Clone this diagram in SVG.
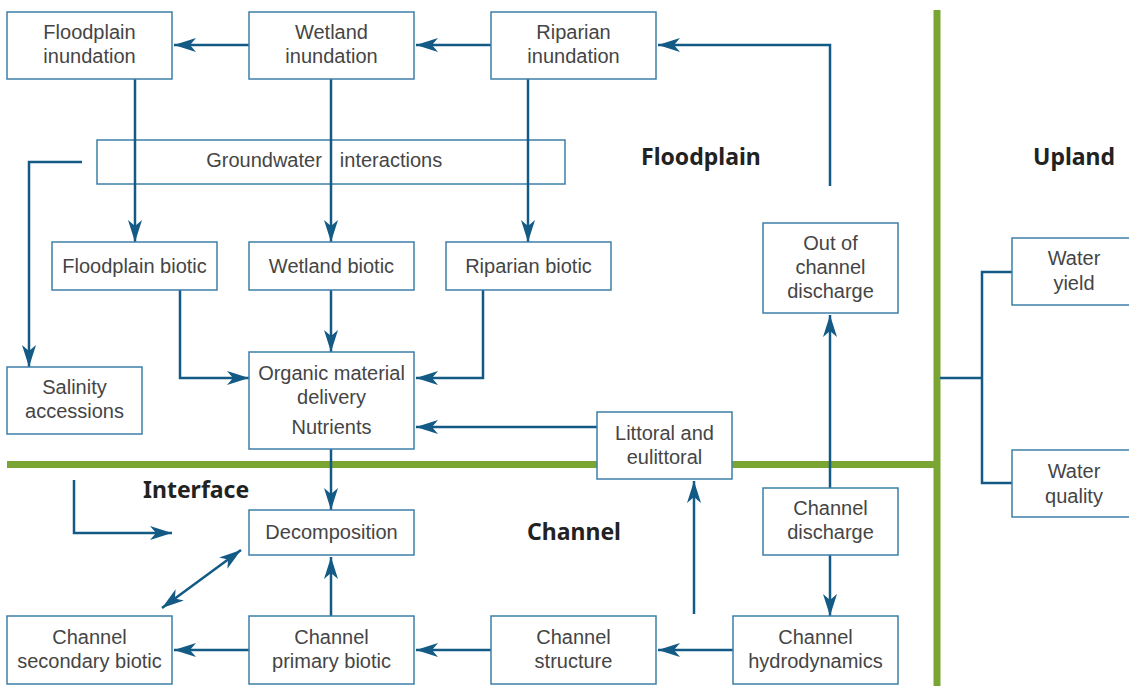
<svg xmlns="http://www.w3.org/2000/svg" width="1129" height="686" viewBox="0 0 1129 686">
<style>
.box{fill:#fff;stroke:#3f7fa8;stroke-width:1.5}
.t{font-family:"Liberation Sans",Arial,sans-serif;font-size:20px;fill:#454545;text-anchor:middle}
.h{font-family:"Noto Sans","Liberation Sans",sans-serif;font-size:23px;font-weight:bold;fill:#222;text-anchor:start}
.c{fill:none;stroke:#135a85;stroke-width:2.5}
.a{marker-end:url(#ah)}
.g{stroke:#7aa532;stroke-width:7;fill:none}
</style>
<defs>
<marker id="ah" markerUnits="userSpaceOnUse" viewBox="0 0 22 14" refX="22" refY="7" markerWidth="22" markerHeight="14" orient="auto-start-reverse">
<path d="M0,0 L22,7 L0,14 L6,7 z" fill="#135a85"/>
</marker>
</defs>
<rect width="1129" height="686" fill="#fff"/>
<g id="dividers">
<line class="g" x1="7" y1="464.5" x2="937" y2="464.5"/>
<line class="g" x1="937" y1="10" x2="937" y2="686"/>
</g>
<g id="labels">
<text class="h" x="641" y="165">Floodplain</text>
<text class="h" x="1033" y="165">Upland</text>
<text class="h" x="143" y="498">Interface</text>
<text class="h" x="527" y="540">Channel</text>
</g>
<g id="groundwater"><rect class="box" x="97" y="140" width="468" height="44"/><text class="t" y="167"><tspan x="264">Groundwater</tspan><tspan x="391">interactions</tspan></text></g>
<g id="connectors">
<line class="c a" x1="249" y1="45" x2="174" y2="45"/>
<line class="c a" x1="491" y1="45" x2="416" y2="45"/>
<polyline class="c a" points="830,186 830,45 658,45"/>
<line class="c a" x1="135" y1="79" x2="135" y2="242"/>
<line class="c a" x1="331" y1="79" x2="331" y2="242"/>
<line class="c a" x1="528" y1="79" x2="528" y2="242"/>
<polyline class="c a" points="82,162 29,162 29,367"/>
<polyline class="c a" points="180,290 180,378 249,378"/>
<line class="c a" x1="331" y1="290" x2="331" y2="352"/>
<polyline class="c a" points="483,290 483,378 416,378"/>
<line class="c a" x1="597" y1="427" x2="416" y2="427"/>
<line class="c a" x1="331" y1="449" x2="331" y2="510"/>
<polyline class="c a" points="74,480 74,533 172,533"/>
<line class="c a" x1="162" y1="608" x2="241" y2="550" style="marker-start:url(#ah)"/>
<line class="c a" x1="331" y1="616" x2="331" y2="557"/>
<line class="c a" x1="249" y1="650" x2="174" y2="650"/>
<line class="c a" x1="491" y1="650" x2="416" y2="650"/>
<line class="c a" x1="733" y1="650" x2="658" y2="650"/>
<line class="c a" x1="694" y1="614" x2="694" y2="481"/>
<line class="c a" x1="830" y1="488" x2="830" y2="315"/>
<line class="c a" x1="830" y1="555" x2="830" y2="616"/>
<polyline class="c" points="940,378 982,378"/>
<polyline class="c" points="1012,272 982,272 982,483 1012,483"/>
</g>
<g id="floodplain-inundation"><rect class="box" x="7" y="12" width="165" height="67"/><text class="t" x="89.5" y="39">Floodplain</text><text class="t" x="89.5" y="63">inundation</text></g>
<g id="wetland-inundation"><rect class="box" x="249" y="12" width="165" height="67"/><text class="t" x="331.5" y="39">Wetland</text><text class="t" x="331.5" y="63">inundation</text></g>
<g id="riparian-inundation"><rect class="box" x="491" y="12" width="165" height="67"/><text class="t" x="573.5" y="39">Riparian</text><text class="t" x="573.5" y="63">inundation</text></g>
<g id="floodplain-biotic"><rect class="box" x="52" y="242" width="165" height="48"/><text class="t" x="134.5" y="273">Floodplain biotic</text></g>
<g id="wetland-biotic"><rect class="box" x="249" y="242" width="165" height="48"/><text class="t" x="331.5" y="273">Wetland biotic</text></g>
<g id="riparian-biotic"><rect class="box" x="446" y="242" width="165" height="48"/><text class="t" x="528.5" y="273">Riparian biotic</text></g>
<g id="out-of-channel"><rect class="box" x="763" y="223" width="135" height="90"/><text class="t" x="830.5" y="250">Out of</text><text class="t" x="830.5" y="274">channel</text><text class="t" x="830.5" y="298">discharge</text></g>
<g id="salinity"><rect class="box" x="7" y="367" width="135" height="67"/><text class="t" x="74.5" y="394">Salinity</text><text class="t" x="74.5" y="418">accessions</text></g>
<g id="organic"><rect class="box" x="249" y="352" width="165" height="97"/><text class="t" x="331.5" y="380">Organic material</text><text class="t" x="331.5" y="404">delivery</text><text class="t" x="331.5" y="434">Nutrients</text></g>
<g id="littoral"><rect class="box" x="597" y="412" width="135" height="67"/><text class="t" x="664.5" y="440">Littoral and</text><text class="t" x="664.5" y="464">eulittoral</text></g>
<g id="decomposition"><rect class="box" x="249" y="510" width="165" height="45"/><text class="t" x="331.5" y="539">Decomposition</text></g>
<g id="channel-discharge"><rect class="box" x="763" y="488" width="135" height="67"/><text class="t" x="830.5" y="515">Channel</text><text class="t" x="830.5" y="539">discharge</text></g>
<g id="channel-secondary"><rect class="box" x="7" y="616" width="165" height="68"/><text class="t" x="89.5" y="644">Channel</text><text class="t" x="89.5" y="668">secondary biotic</text></g>
<g id="channel-primary"><rect class="box" x="249" y="616" width="165" height="68"/><text class="t" x="331.5" y="644">Channel</text><text class="t" x="331.5" y="668">primary biotic</text></g>
<g id="channel-structure"><rect class="box" x="491" y="616" width="165" height="68"/><text class="t" x="573.5" y="644">Channel</text><text class="t" x="573.5" y="668">structure</text></g>
<g id="channel-hydrodynamics"><rect class="box" x="733" y="616" width="165" height="68"/><text class="t" x="815.5" y="644">Channel</text><text class="t" x="815.5" y="668">hydrodynamics</text></g>
<g id="water-yield"><rect class="box" x="1012" y="238" width="130" height="67"/><text class="t" x="1074" y="265">Water</text><text class="t" x="1074" y="290">yield</text></g>
<g id="water-quality"><rect class="box" x="1012" y="450" width="130" height="67"/><text class="t" x="1074" y="478">Water</text><text class="t" x="1074" y="503">quality</text></g>
</svg>
